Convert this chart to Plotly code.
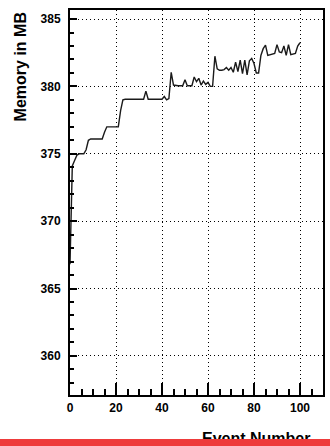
import plotly.graph_objects as go

events = list(range(0, 101))
memory_mb = [
    366.8, 374.1, 374.5, 374.9, 375.0, 375.0, 375.0, 375.3, 376.0, 376.1,
    376.1, 376.1, 376.1, 376.1, 376.1, 376.6, 377.0, 377.0, 377.0, 377.0,
    377.0, 377.0, 378.2, 379.0, 379.05, 379.05, 379.05, 379.05, 379.05, 379.05,
    379.05, 379.05, 379.05, 379.65, 379.05, 379.05, 379.05, 379.05, 379.05, 379.05,
    379.05, 379.25, 379.0, 379.1, 381.05, 380.1, 380.05, 380.05, 380.05, 380.05,
    380.5, 380.05, 380.05, 380.05, 380.7, 380.35, 380.6, 380.1, 380.4, 380.15,
    380.3, 380.0, 380.0, 382.24, 381.3, 381.2, 381.2, 381.25, 381.4, 381.2,
    381.4, 381.05, 381.8, 381.1, 381.95, 380.95, 381.95, 380.85, 381.9, 382.07,
    381.7, 381.0, 381.0, 382.3, 382.8, 383.06, 382.3, 382.35, 382.4, 382.45,
    383.1, 382.55, 382.5, 383.0, 382.3, 383.1, 382.35, 382.4, 382.45, 383.0,
    383.24,
]
x_ticks = [0, 20, 40, 60, 80, 100]
y_ticks = [360, 365, 370, 375, 380, 385]
x_title = "Event Number"
y_title = "Memory in MB"

W, H = 330, 446
L, R, T, B = 70, 5, 10, 51
pw, ph = W - L - R, H - T - B

def px_x(p):
    return (p - L) / pw

def px_y(p):
    return (H - B - p) / ph

FONT = "Liberation Sans, Arial, sans-serif"

fig = go.Figure()
fig.add_trace(go.Scatter(
    x=events, y=memory_mb, mode="lines",
    line=dict(color="#1a1a1a", width=1.4),
    hoverinfo="skip", showlegend=False,
))

axis_common = dict(
    showline=True, linecolor="black", linewidth=2, mirror=True,
    showgrid=True, gridcolor="black", griddash="1px,3px", gridwidth=1,
    zeroline=False, ticks="inside", tickcolor="black", tickwidth=1.5,
    tickfont=dict(family=FONT, size=12, color="black", weight="bold"),
)

fig.update_xaxes(
    range=[0, 110], tickvals=x_ticks, ticktext=[str(v) for v in x_ticks],
    ticklen=12, ticklabelstandoff=1,
    minor=dict(dtick=5, tick0=0, ticks="inside", ticklen=6, tickcolor="black",
               tickwidth=1.5, showgrid=False),
    **axis_common,
)
fig.update_yaxes(
    range=[357.1, 385.67], tickvals=y_ticks, ticktext=[str(v) for v in y_ticks],
    ticklen=7, ticklabelstandoff=5,
    minor=dict(dtick=1, tick0=0, ticks="inside", ticklen=4, tickcolor="black",
               tickwidth=1.5, showgrid=False),
    **axis_common,
)

annotations = [
    dict(text=y_title, xref="paper", yref="paper", x=px_x(20), y=px_y(67),
         xanchor="center", yanchor="middle", textangle=-90, showarrow=False,
         font=dict(family=FONT, size=16, color="black", weight="bold")),
    dict(text=x_title, xref="paper", yref="paper", x=px_x(314), y=px_y(428),
         xanchor="right", yanchor="top", showarrow=False,
         font=dict(family=FONT, size=16, color="black", weight="bold")),
    dict(text=" ", xref="paper", yref="paper", x=px_x(165), y=px_y(439),
         xanchor="center", yanchor="top", showarrow=False,
         width=W + 4, height=14, bgcolor="#ee3b3b", borderpad=0, borderwidth=0),
]

fig.update_layout(
    width=W, height=H, margin=dict(l=L, r=R, t=T, b=B, pad=0),
    paper_bgcolor="white", plot_bgcolor="white",
    annotations=annotations,
)

fig.write_html("out.html")
